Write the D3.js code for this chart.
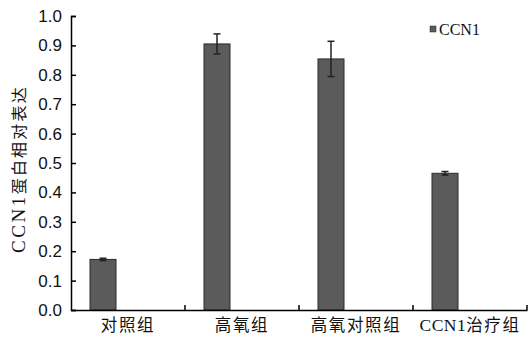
<!DOCTYPE html>
<html><head><meta charset="utf-8">
<script src="https://cdn.jsdelivr.net/npm/d3@7"></script>
<style>body{margin:0;background:#fff}</style>
</head><body>
<svg id="c" width="529" height="338"></svg>
<script>
const categories = ["对照组", "高氧组", "高氧对照组", "CCN1治疗组"];
const seriesNames = ["CCN1", ""];
const values = [0.172, 0.905, 0.854, 0.465];
const errors = [0.004, 0.034, 0.060, 0.006];
const yTicks = [0, 0.1, 0.2, 0.3, 0.4, 0.5, 0.6, 0.7, 0.8, 0.9, 1.0];
const yTitleParts = ["CCN1", "蛋白相对表达"];

const svg = d3.select("#c");
const m = {l: 71, r: 2, t: 16, b: 28};
const W = 529, H = 338;
const x = d3.scaleBand().domain(categories).range([m.l, W - m.r]).padding(0);
const x1 = d3.scaleBand().domain(seriesNames).range([0, x.bandwidth()]).paddingInner(0.48).paddingOuter(0.38);
const y = d3.scaleLinear().domain([0, 1]).range([H - m.b, m.t]);

const barFill = "#5b5b5b", barStroke = "#2b2b2b";
const cjk = "'Noto Sans CJK SC', sans-serif";
const serif = "'Liberation Serif', serif";

// bars
svg.append("g").selectAll("rect").data(values).join("rect")
  .attr("x", (d, i) => x(categories[i]) + x1("CCN1"))
  .attr("y", d => y(d))
  .attr("width", x1.bandwidth())
  .attr("height", d => y(0) - y(d))
  .attr("fill", barFill).attr("stroke", barStroke).attr("stroke-width", 1);

// error bars
const eg = svg.append("g").attr("stroke", "#222").attr("stroke-width", 1.5);
values.forEach((v, i) => {
  const cx = x(categories[i]) + x1("CCN1") + x1.bandwidth() / 2;
  eg.append("line").attr("x1", cx).attr("x2", cx).attr("y1", y(v + errors[i])).attr("y2", y(v - errors[i]));
  eg.append("line").attr("x1", cx - 3.5).attr("x2", cx + 3.5).attr("y1", y(v + errors[i])).attr("y2", y(v + errors[i]));
  eg.append("line").attr("x1", cx - 3.5).attr("x2", cx + 3.5).attr("y1", y(v - errors[i])).attr("y2", y(v - errors[i]));
});

// y axis
const ya = svg.append("g").attr("transform", `translate(${m.l},0)`)
  .call(d3.axisLeft(y).tickValues(yTicks).tickFormat(d3.format(".1f")).tickSize(-5).tickPadding(9));
ya.select(".domain").attr("stroke", "#000").attr("stroke-width", 1.5);
ya.selectAll(".tick line").attr("stroke", "#000").attr("stroke-width", 1.5);
ya.selectAll(".tick text").attr("font-family", "'Liberation Sans', Arial, sans-serif").attr("font-size", 17).attr("fill", "#111");

// x axis
const xa = svg.append("g").attr("transform", `translate(0,${y(0)})`)
  .call(d3.axisBottom(x).tickSize(0).tickPadding(9));
xa.select(".domain").attr("stroke", "#000").attr("stroke-width", 1.5);
xa.selectAll(".tick text").each(function(d) {
  const t = d3.select(this).text("").attr("fill", "#111").attr("font-size", 16.5).attr("dy", "0.72em");
  const mm = d.match(/^([A-Za-z0-9]*)(.*)$/);
  if (mm[1]) t.append("tspan").attr("font-family", serif).attr("font-size", 17.5).attr("letter-spacing", 0.5).text(mm[1]);
  t.append("tspan").attr("font-family", cjk).attr("letter-spacing", 1.6).text(mm[2]);
});
// boundary ticks
const bounds = categories.map(c => x(c) + x.bandwidth());
xa.append("g").selectAll("line").data(bounds).join("line")
  .attr("x1", d => d).attr("x2", d => d).attr("y1", 0).attr("y2", -5)
  .attr("stroke", "#000").attr("stroke-width", 1.5);

// y title
const yt = svg.append("text")
  .attr("transform", `translate(25,${(y(0)+y(1))/2 + 6}) rotate(-90)`)
  .attr("text-anchor", "middle")
  .attr("font-size", 16).attr("fill", "#111");
yt.append("tspan").attr("font-family", serif).attr("font-size", 19).attr("letter-spacing", 2.5).text(yTitleParts[0]);
yt.append("tspan").attr("font-family", cjk).attr("letter-spacing", 2.2).text(yTitleParts[1]);

// legend
const lg = svg.append("g").attr("transform", "translate(430,26)");
lg.append("rect").attr("width", 6).attr("height", 6).attr("fill", barFill).attr("stroke", barStroke).attr("stroke-width", 0.5);
lg.append("text").attr("x", 9).attr("y", 8.5).attr("font-family", serif).attr("font-size", 16).attr("fill", "#111").text(seriesNames[0]);
</script>
</body></html>
